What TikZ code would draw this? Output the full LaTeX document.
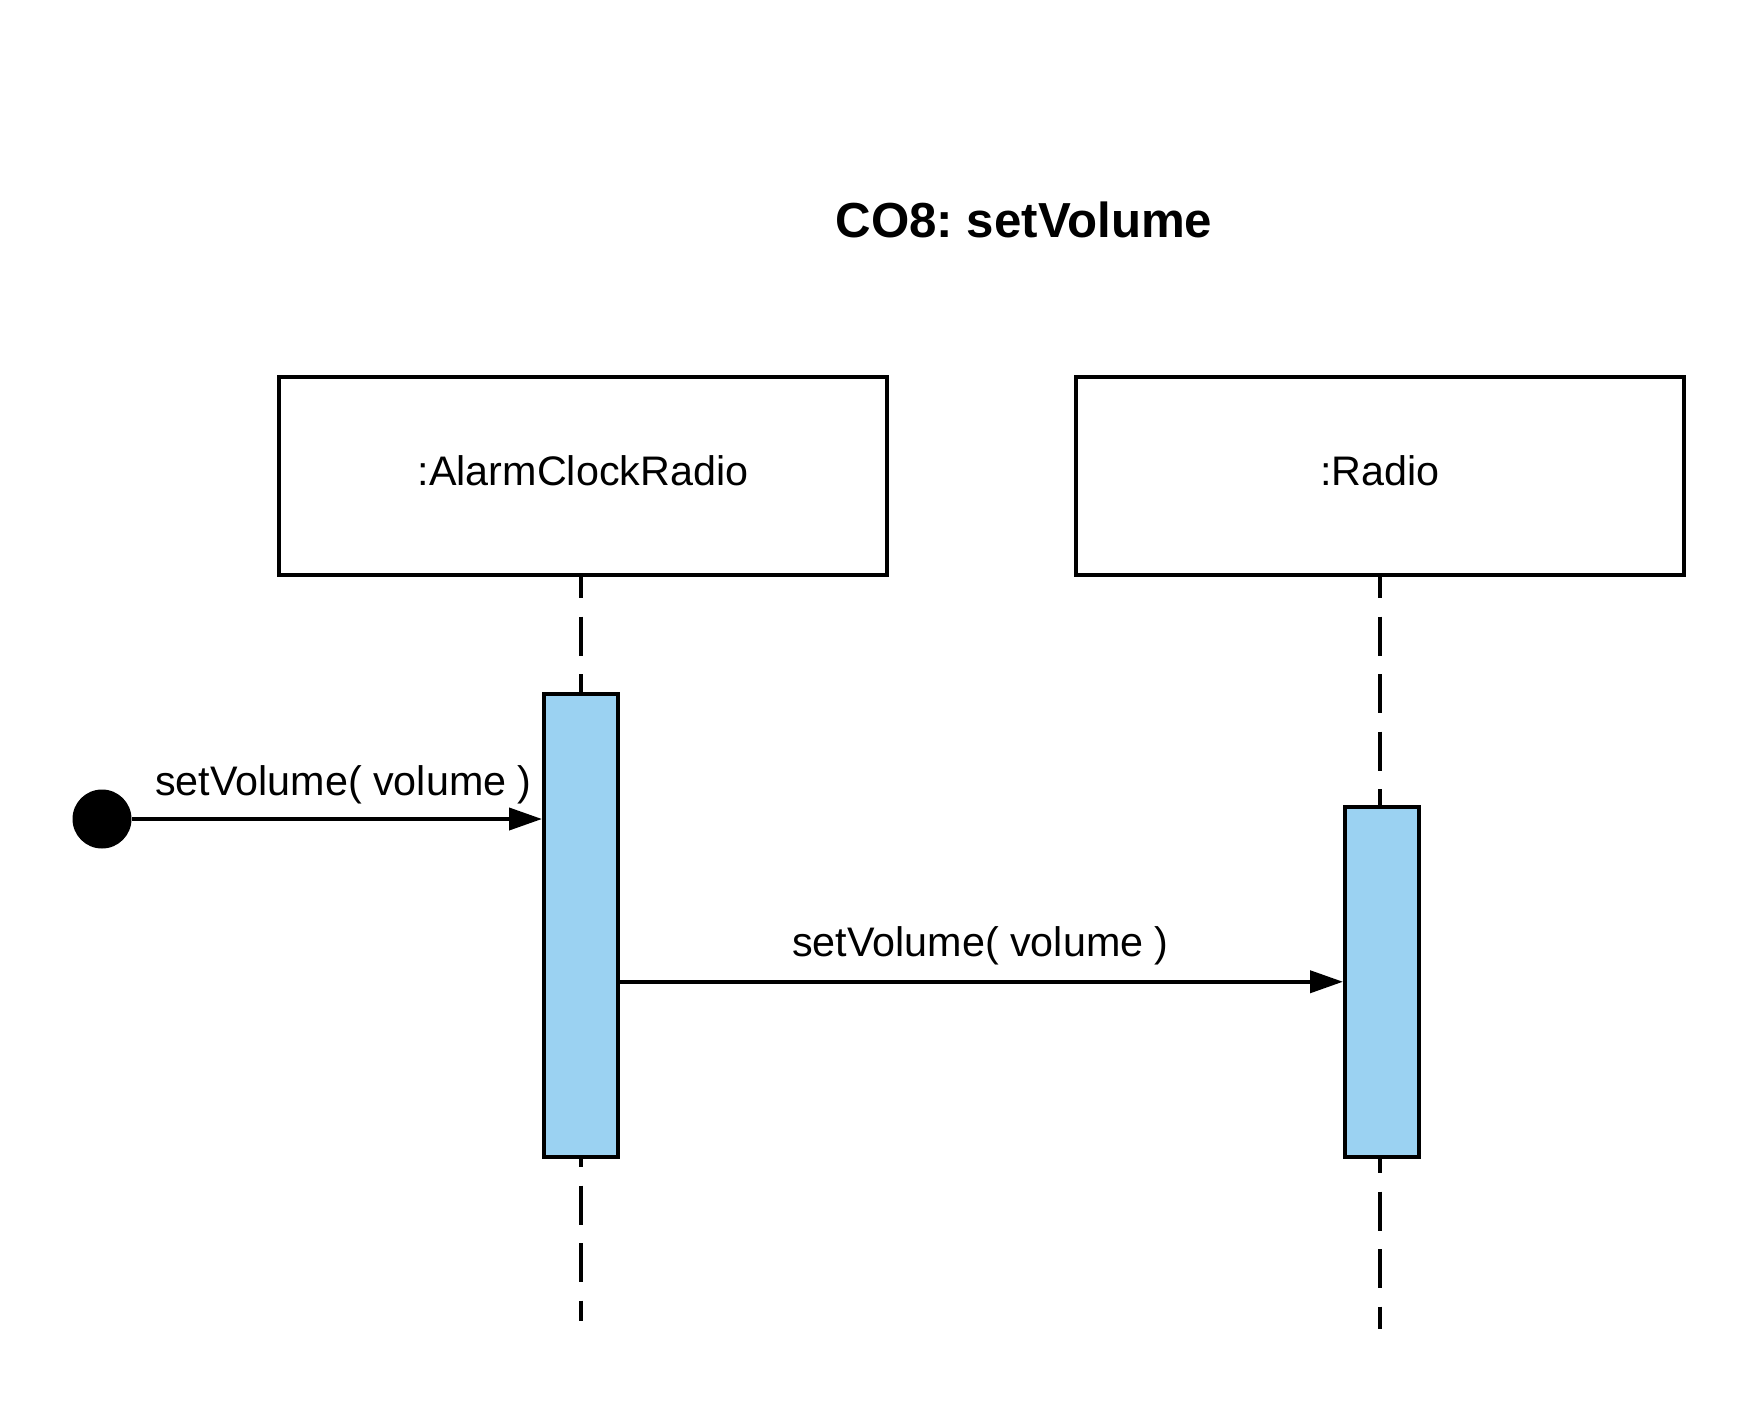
\documentclass[tikz,border=0pt]{standalone}
\usepackage{fontspec}
\setmainfont{Liberation Sans}
\usetikzlibrary{arrows.meta}
\definecolor{actblue}{RGB}{155,210,242}
\frenchspacing
\begin{document}
\begin{tikzpicture}[x=1pt,y=-1pt,
  obj/.style={draw,line width=4pt,minimum width=608pt,minimum height=198pt,inner sep=0pt,
    font=\fontsize{41.3}{49}\selectfont,text height=29.6pt,text depth=10pt},
  act/.style={draw,line width=4pt,fill=actblue,minimum width=74pt,inner sep=0pt},
  life/.style={line width=3.5pt,dash pattern=on 39pt off 18.5pt},
  msg/.style={line width=4pt,-{Triangle[length=33pt,width=22pt]}},
  lbl/.style={font=\fontsize{41.3}{49}\selectfont,inner sep=0pt,anchor=base},
  startdot/.style={circle,fill=black,minimum size=59pt,inner sep=0pt},
]
\useasboundingbox (0,0) rectangle (1763,1404);

\node[font=\bfseries\fontsize{49.2}{59}\selectfont,inner sep=0pt,anchor=base] (title) at (1024,238) {CO8: setVolume};

\node[obj] (box1) at (583,476) {:AlarmClockRadio};
\node[obj] (box2) at (1380,476) {:Radio};

\node[act,minimum height=463pt] (act1) at (581,925.5) {};
\node[act,minimum height=350.5pt] (act2) at (1382,981.75) {};

\coordinate (end1) at (581,1321);
\coordinate (end2) at (1380,1329);

\draw[life,dash phase=18pt] (act1.north |- box1.south) -- (act1.north);
\draw[life,dash phase=31pt] (act1.south) -- (end1);
\draw[life,dash phase=18pt] (box2.south) -- (box2.south |- act2.north);
\draw[life,dash phase=25pt] (end2 |- act2.south) -- (end2);

\node[startdot] (start) at (102,819) {};
\draw[msg] (start.east) -- (act1.west |- start.east);
\node[lbl] (lbl1) at (343.5,795) {setVolume( volume )};

\draw[msg] (act1.east |- act2.west) -- (act2.west);
\node[lbl] (lbl2) at (980.5,956) {setVolume( volume )};
\end{tikzpicture}
\end{document}
